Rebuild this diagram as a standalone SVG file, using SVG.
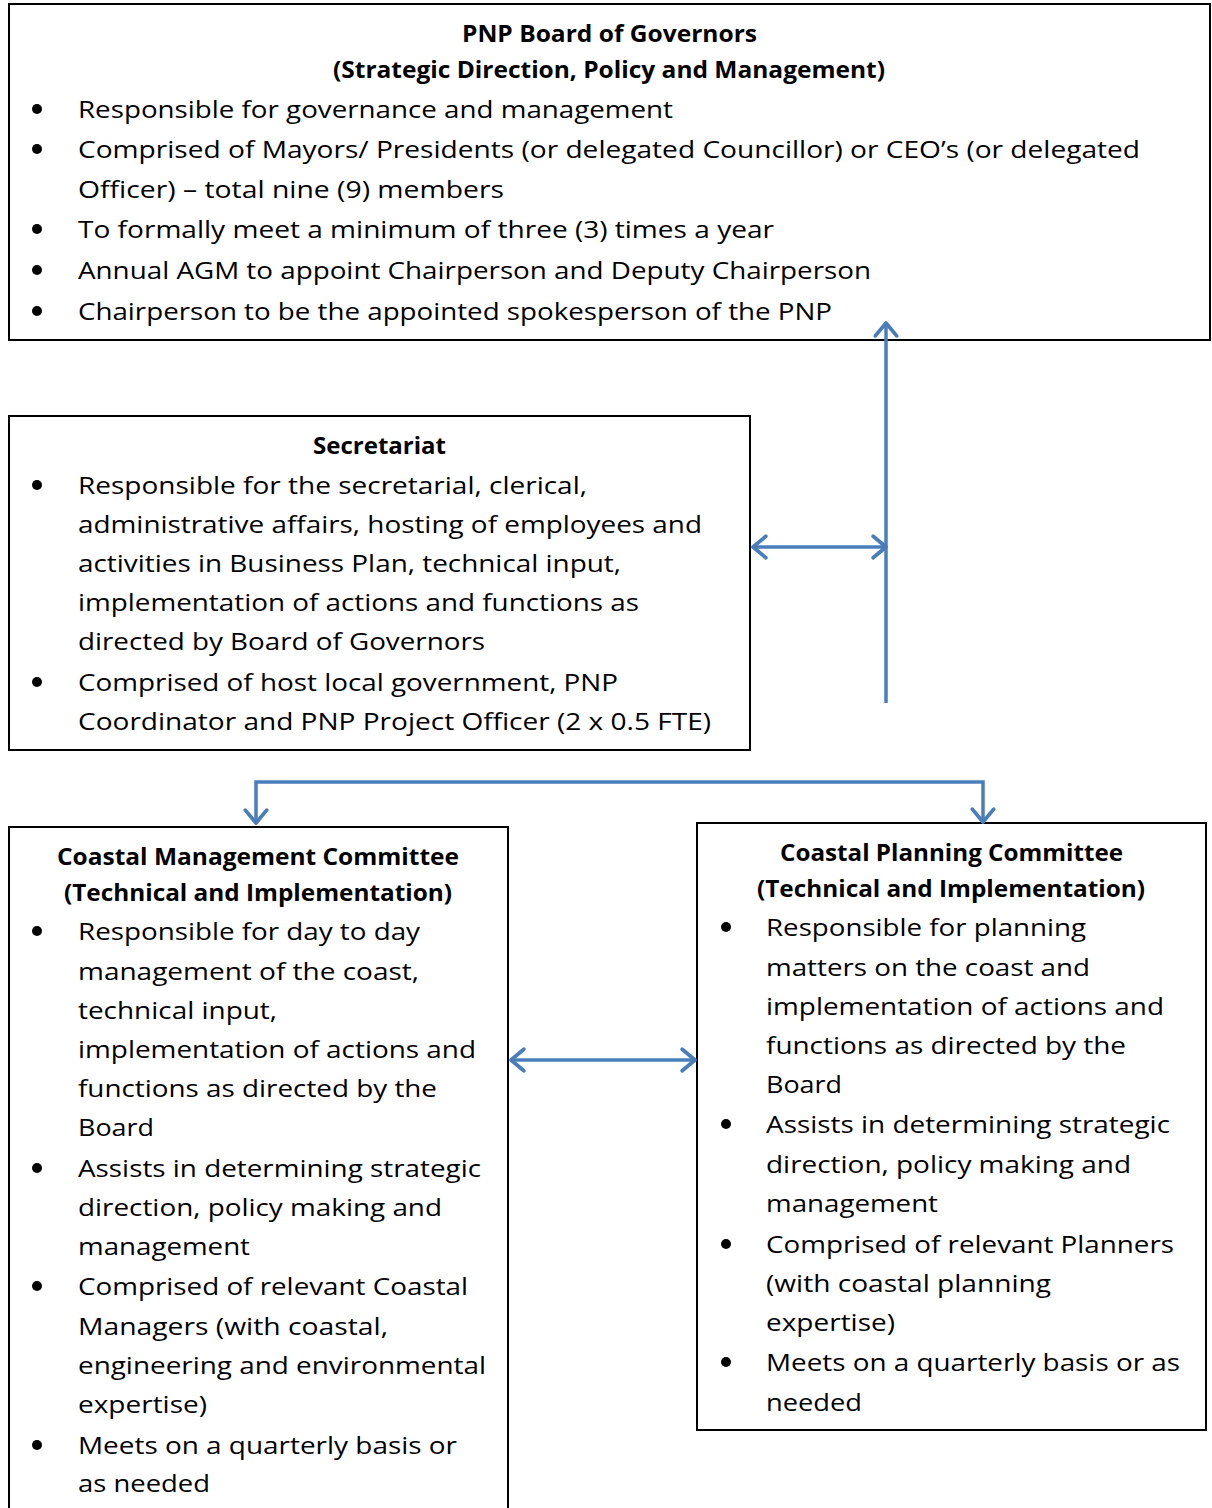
<svg xmlns="http://www.w3.org/2000/svg" width="1212" height="1508" viewBox="0 0 1212 1508">
<style>
.box{fill:#fff;stroke:#000;stroke-width:2}
text{font-family:"Open Sans","Noto Sans",sans-serif;font-size:24px;fill:#000}
.t{font-weight:bold}
.b{fill:#000}
.c{fill:none;stroke:#4a7ebb;stroke-width:3.5}
</style>
<defs>
<marker id="ah" markerUnits="userSpaceOnUse" markerWidth="30" markerHeight="30" viewBox="-16 -14 20 28" refX="0" refY="0" orient="auto-start-reverse">
<path d="M-12,-10 L0,0 L-12,10" fill="none" stroke="#4a7ebb" stroke-width="3.5" stroke-linecap="round" stroke-linejoin="round"/>
</marker>
</defs>
<rect width="1212" height="1508" fill="#fff"/>
<g id="board">
<rect class="box" x="9" y="4" width="1201" height="336"/>
<text class="t" x="462" y="42" textLength="295" lengthAdjust="spacingAndGlyphs">PNP Board of Governors</text>
<text class="t" x="333" y="78" textLength="552" lengthAdjust="spacingAndGlyphs">(Strategic Direction, Policy and Management)</text>
<circle class="b" cx="37" cy="109" r="5"/>
<text x="78" y="118" textLength="595" lengthAdjust="spacingAndGlyphs">Responsible for governance and management</text>
<circle class="b" cx="37" cy="149" r="5"/>
<text x="78" y="158" textLength="1062" lengthAdjust="spacingAndGlyphs">Comprised of Mayors/ Presidents (or delegated Councillor) or CEO’s (or delegated</text>
<text x="78" y="198" textLength="426" lengthAdjust="spacingAndGlyphs">Officer) – total nine (9) members</text>
<circle class="b" cx="37" cy="229" r="5"/>
<text x="78" y="238" textLength="696" lengthAdjust="spacingAndGlyphs">To formally meet a minimum of three (3) times a year</text>
<circle class="b" cx="37" cy="270" r="5"/>
<text x="78" y="279" textLength="793" lengthAdjust="spacingAndGlyphs">Annual AGM to appoint Chairperson and Deputy Chairperson</text>
<circle class="b" cx="37" cy="311" r="5"/>
<text x="78" y="320" textLength="754" lengthAdjust="spacingAndGlyphs">Chairperson to be the appointed spokesperson of the PNP</text>
</g>
<g id="secretariat">
<rect class="box" x="9" y="416" width="741" height="334"/>
<text class="t" x="313" y="454" textLength="133" lengthAdjust="spacingAndGlyphs">Secretariat</text>
<circle class="b" cx="37" cy="485" r="5"/>
<text x="78" y="494" textLength="509" lengthAdjust="spacingAndGlyphs">Responsible for the secretarial, clerical,</text>
<text x="78" y="533" textLength="624" lengthAdjust="spacingAndGlyphs">administrative affairs, hosting of employees and</text>
<text x="78" y="572" textLength="543" lengthAdjust="spacingAndGlyphs">activities in Business Plan, technical input,</text>
<text x="78" y="611" textLength="561" lengthAdjust="spacingAndGlyphs">implementation of actions and functions as</text>
<text x="78" y="650" textLength="407" lengthAdjust="spacingAndGlyphs">directed by Board of Governors</text>
<circle class="b" cx="37" cy="682" r="5"/>
<text x="78" y="691" textLength="540" lengthAdjust="spacingAndGlyphs">Comprised of host local government, PNP</text>
<text x="78" y="730" textLength="633" lengthAdjust="spacingAndGlyphs">Coordinator and PNP Project Officer (2 x 0.5 FTE)</text>
</g>
<g id="cmc">
<rect class="box" x="9" y="827" width="499" height="700"/>
<text class="t" x="57" y="865" textLength="402" lengthAdjust="spacingAndGlyphs">Coastal Management Committee</text>
<text class="t" x="64" y="901" textLength="388" lengthAdjust="spacingAndGlyphs">(Technical and Implementation)</text>
<circle class="b" cx="37" cy="931" r="5"/>
<text x="78" y="940" textLength="342" lengthAdjust="spacingAndGlyphs">Responsible for day to day</text>
<text x="78" y="980" textLength="341" lengthAdjust="spacingAndGlyphs">management of the coast,</text>
<text x="78" y="1019" textLength="199" lengthAdjust="spacingAndGlyphs">technical input,</text>
<text x="78" y="1058" textLength="398" lengthAdjust="spacingAndGlyphs">implementation of actions and</text>
<text x="78" y="1097" textLength="359" lengthAdjust="spacingAndGlyphs">functions as directed by the</text>
<text x="78" y="1136" textLength="76" lengthAdjust="spacingAndGlyphs">Board</text>
<circle class="b" cx="37" cy="1168" r="5"/>
<text x="78" y="1177" textLength="403" lengthAdjust="spacingAndGlyphs">Assists in determining strategic</text>
<text x="78" y="1216" textLength="364" lengthAdjust="spacingAndGlyphs">direction, policy making and</text>
<text x="78" y="1255" textLength="172" lengthAdjust="spacingAndGlyphs">management</text>
<circle class="b" cx="37" cy="1286" r="5"/>
<text x="78" y="1295" textLength="390" lengthAdjust="spacingAndGlyphs">Comprised of relevant Coastal</text>
<text x="78" y="1335" textLength="310" lengthAdjust="spacingAndGlyphs">Managers (with coastal,</text>
<text x="78" y="1374" textLength="408" lengthAdjust="spacingAndGlyphs">engineering and environmental</text>
<text x="78" y="1413" textLength="129" lengthAdjust="spacingAndGlyphs">expertise)</text>
<circle class="b" cx="37" cy="1445" r="5"/>
<text x="78" y="1454" textLength="379" lengthAdjust="spacingAndGlyphs">Meets on a quarterly basis or</text>
<text x="78" y="1492" textLength="132" lengthAdjust="spacingAndGlyphs">as needed</text>
</g>
<g id="cpc">
<rect class="box" x="697" y="823" width="509" height="607"/>
<text class="t" x="780" y="861" textLength="343" lengthAdjust="spacingAndGlyphs">Coastal Planning Committee</text>
<text class="t" x="757" y="897" textLength="388" lengthAdjust="spacingAndGlyphs">(Technical and Implementation)</text>
<circle class="b" cx="726" cy="927" r="5"/>
<text x="766" y="936" textLength="320" lengthAdjust="spacingAndGlyphs">Responsible for planning</text>
<text x="766" y="976" textLength="324" lengthAdjust="spacingAndGlyphs">matters on the coast and</text>
<text x="766" y="1015" textLength="398" lengthAdjust="spacingAndGlyphs">implementation of actions and</text>
<text x="766" y="1054" textLength="360" lengthAdjust="spacingAndGlyphs">functions as directed by the</text>
<text x="766" y="1093" textLength="76" lengthAdjust="spacingAndGlyphs">Board</text>
<circle class="b" cx="726" cy="1124" r="5"/>
<text x="766" y="1133" textLength="404" lengthAdjust="spacingAndGlyphs">Assists in determining strategic</text>
<text x="766" y="1173" textLength="365" lengthAdjust="spacingAndGlyphs">direction, policy making and</text>
<text x="766" y="1212" textLength="172" lengthAdjust="spacingAndGlyphs">management</text>
<circle class="b" cx="726" cy="1244" r="5"/>
<text x="766" y="1253" textLength="408" lengthAdjust="spacingAndGlyphs">Comprised of relevant Planners</text>
<text x="766" y="1292" textLength="285" lengthAdjust="spacingAndGlyphs">(with coastal planning</text>
<text x="766" y="1331" textLength="129" lengthAdjust="spacingAndGlyphs">expertise)</text>
<circle class="b" cx="726" cy="1362" r="5"/>
<text x="766" y="1371" textLength="414" lengthAdjust="spacingAndGlyphs">Meets on a quarterly basis or as</text>
<text x="766" y="1411" textLength="96" lengthAdjust="spacingAndGlyphs">needed</text>
</g>
<g id="connectors">
<path class="c" d="M886,703 V323" marker-end="url(#ah)"/>
<path class="c" d="M753,547 H886" marker-start="url(#ah)" marker-end="url(#ah)"/>
<path class="c" d="M256,823 V782 H983 V822" marker-start="url(#ah)" marker-end="url(#ah)"/>
<path class="c" d="M511,1060 H695" marker-start="url(#ah)" marker-end="url(#ah)"/>
</g>
</svg>
